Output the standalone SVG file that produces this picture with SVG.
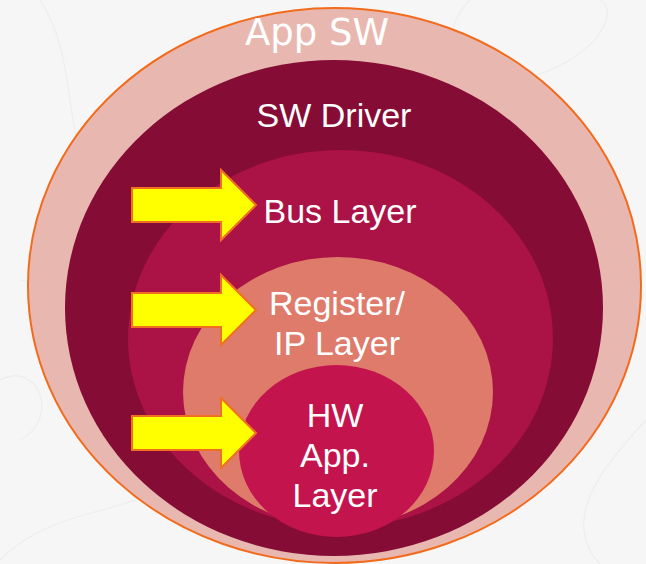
<svg xmlns="http://www.w3.org/2000/svg" xmlns:xlink="http://www.w3.org/1999/xlink" width="646" height="564" viewBox="0 0 646 564">
  <style>
    .lbl { fill: #FFFFFF; font-family: "Liberation Sans", Arial, sans-serif; font-size: 34px; text-anchor: middle; }
    .title { fill: #FFFFFF; font-family: "DejaVu Sans", "Liberation Sans", sans-serif; font-size: 37px; text-anchor: middle; }
    .swirl { fill: none; stroke: #EDEDED; stroke-width: 1.2; }
    .arrow { fill: #FFFF00; stroke: #F07020; stroke-width: 2; stroke-linejoin: miter; }
  </style>
  <defs>
    <!-- block arrow, tip at the origin -->
    <path id="blockArrow" class="arrow" d="M-124,-17 H-35 V-35 L0,0 L-35,35 V17 H-124 Z"/>
  </defs>

  <!-- page background with faint decorative swirls -->
  <rect width="646" height="564" fill="#F6F6F6"/>
  <g id="backdrop">
    <path class="swirl" d="M40,0 C80,60 60,140 100,200 C130,240 90,300 20,280"/>
    <path class="swirl" d="M0,560 C60,500 140,520 180,470"/>
    <path class="swirl" d="M470,0 C430,40 460,90 520,80 C600,60 620,10 600,0"/>
    <path class="swirl" d="M646,420 C600,470 560,520 600,564"/>
    <path class="swirl" d="M0,380 C40,360 60,420 20,440"/>
  </g>

  <!-- nested layers, outermost first -->
  <g id="app-sw">
    <ellipse cx="334.5" cy="285.5" rx="306.5" ry="277.5" fill="#E8B8B0" stroke="#F26B1D" stroke-width="2"/>
    <text class="title" x="317" y="45">App SW</text>
  </g>
  <g id="sw-driver">
    <ellipse cx="334" cy="308" rx="269" ry="248" fill="#850C35"/>
    <text class="lbl" x="334" y="127">SW Driver</text>
  </g>
  <g id="bus-layer">
    <ellipse cx="340.5" cy="338.5" rx="212.5" ry="188.5" fill="#AB1245"/>
    <text class="lbl" x="340" y="223">Bus Layer</text>
  </g>
  <g id="register-ip-layer">
    <ellipse cx="338" cy="392" rx="155" ry="135" fill="#DE7B6A"/>
    <text class="lbl" x="337" y="315">Register/</text>
    <text class="lbl" x="337" y="355">IP Layer</text>
  </g>
  <g id="hw-app-layer">
    <ellipse cx="336.5" cy="451" rx="97.5" ry="86" fill="#C4144E"/>
    <text class="lbl" x="335" y="427">HW</text>
    <text class="lbl" x="335" y="467">App.</text>
    <text class="lbl" x="335" y="507">Layer</text>
  </g>

  <!-- arrows pointing into the inner layers -->
  <g id="connectors">
    <use xlink:href="#blockArrow" x="256" y="205"/>
    <use xlink:href="#blockArrow" x="256" y="310"/>
    <use xlink:href="#blockArrow" x="256" y="433"/>
  </g>
</svg>
